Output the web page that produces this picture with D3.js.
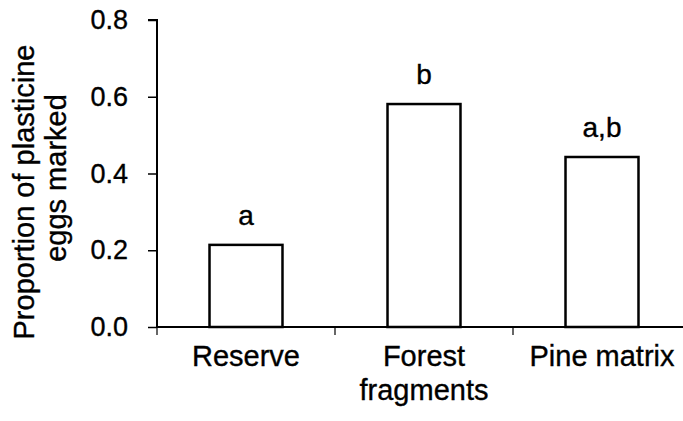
<!DOCTYPE html>
<html>
<head>
<meta charset="utf-8">
<script src="https://cdn.jsdelivr.net/npm/d3@7"></script>
<style>
  html, body { margin: 0; padding: 0; background: #fff; }
  svg { display: block; font-family: "Liberation Sans", Arial, sans-serif; }
  text { stroke: #000; stroke-width: 0.35px; }
</style>
</head>
<body>
<svg id="chart" width="683" height="421"></svg>
<script>
const categories = ["Reserve", "Forest fragments", "Pine matrix"];
const categoryLines = [["Reserve"], ["Forest", "fragments"], ["Pine matrix"]];
const values = [0.214, 0.581, 0.443];
const letters = ["a", "b", "a,b"];
const yTicks = [0.0, 0.2, 0.4, 0.6, 0.8];
const yTitleLines = ["Proportion of plasticine", "eggs marked"];

(function () {
const svg = d3.select("#chart");
const pLeft = 157, pRight = 691, pTop = 20, pBottom = 327;
const fs = 29;

const x = d3.scaleBand().domain(categories).range([pLeft, pRight])
  .paddingInner(0.59).paddingOuter(0.295);
const y = d3.scaleLinear().domain([0, 0.8]).range([pBottom, pTop]);

// bars
svg.append("g").selectAll("rect").data(categories).join("rect")
  .attr("x", d => x(d))
  .attr("y", (d, i) => y(values[i]))
  .attr("width", x.bandwidth())
  .attr("height", (d, i) => y(0) - y(values[i]))
  .attr("fill", "#fff").attr("stroke", "#000").attr("stroke-width", 2.5);

// y axis
const yAxis = svg.append("g").attr("transform", `translate(${pLeft},0)`)
  .call(d3.axisLeft(y).tickValues(yTicks).tickFormat(d3.format(".1f")).tickSize(9).tickPadding(20));
yAxis.select(".domain").attr("stroke-width", 2).attr("d", `M-9,${pTop}H0V${pBottom}`);
yAxis.selectAll(".tick line").attr("stroke-width", 1.5);
yAxis.selectAll(".tick text").attr("font-size", 27).attr("fill", "#000")
  .attr("font-family", "Liberation Sans, Arial, sans-serif");

// x axis line with boundary ticks
const xAxisG = svg.append("g");
xAxisG.append("line").attr("x1", pLeft).attr("x2", pRight).attr("y1", pBottom).attr("y2", pBottom)
  .attr("stroke", "#000").attr("stroke-width", 2);
xAxisG.selectAll("line.bt").data(categories).join("line").attr("class", "bt")
  .attr("x1", d => x(d) - x.step() * x.paddingInner() / 2)
  .attr("x2", d => x(d) - x.step() * x.paddingInner() / 2)
  .attr("y1", pBottom).attr("y2", pBottom + 8)
  .attr("stroke", "#000").attr("stroke-width", 1.2);

// category labels
const catG = svg.append("g");
categories.forEach((c, i) => {
  const t = catG.append("text").attr("x", x(c) + x.bandwidth() / 2).attr("y", 366)
    .attr("text-anchor", "middle").attr("font-size", fs).attr("fill", "#000");
  categoryLines[i].forEach((ln, j) => {
    t.append("tspan").attr("x", x(c) + x.bandwidth() / 2).attr("dy", j === 0 ? 0 : 34).text(ln);
  });
});

// significance letters
svg.append("g").selectAll("text").data(categories).join("text")
  .attr("x", d => x(d) + x.bandwidth() / 2)
  .attr("y", (d, i) => y(values[i]) - 20)
  .attr("text-anchor", "middle").attr("font-size", fs - 1).attr("fill", "#000")
  .text((d, i) => letters[i]);

// y title
const yt = svg.append("text").attr("transform", "translate(0,192) rotate(-90)")
  .attr("text-anchor", "middle").attr("font-size", fs).attr("fill", "#000");
yTitleLines.forEach((ln, j) => {
  yt.append("tspan").attr("x", j === 0 ? 0 : 14).attr("y", j === 0 ? 34 : 66).text(ln);
});
})();
</script>
</body>
</html>
